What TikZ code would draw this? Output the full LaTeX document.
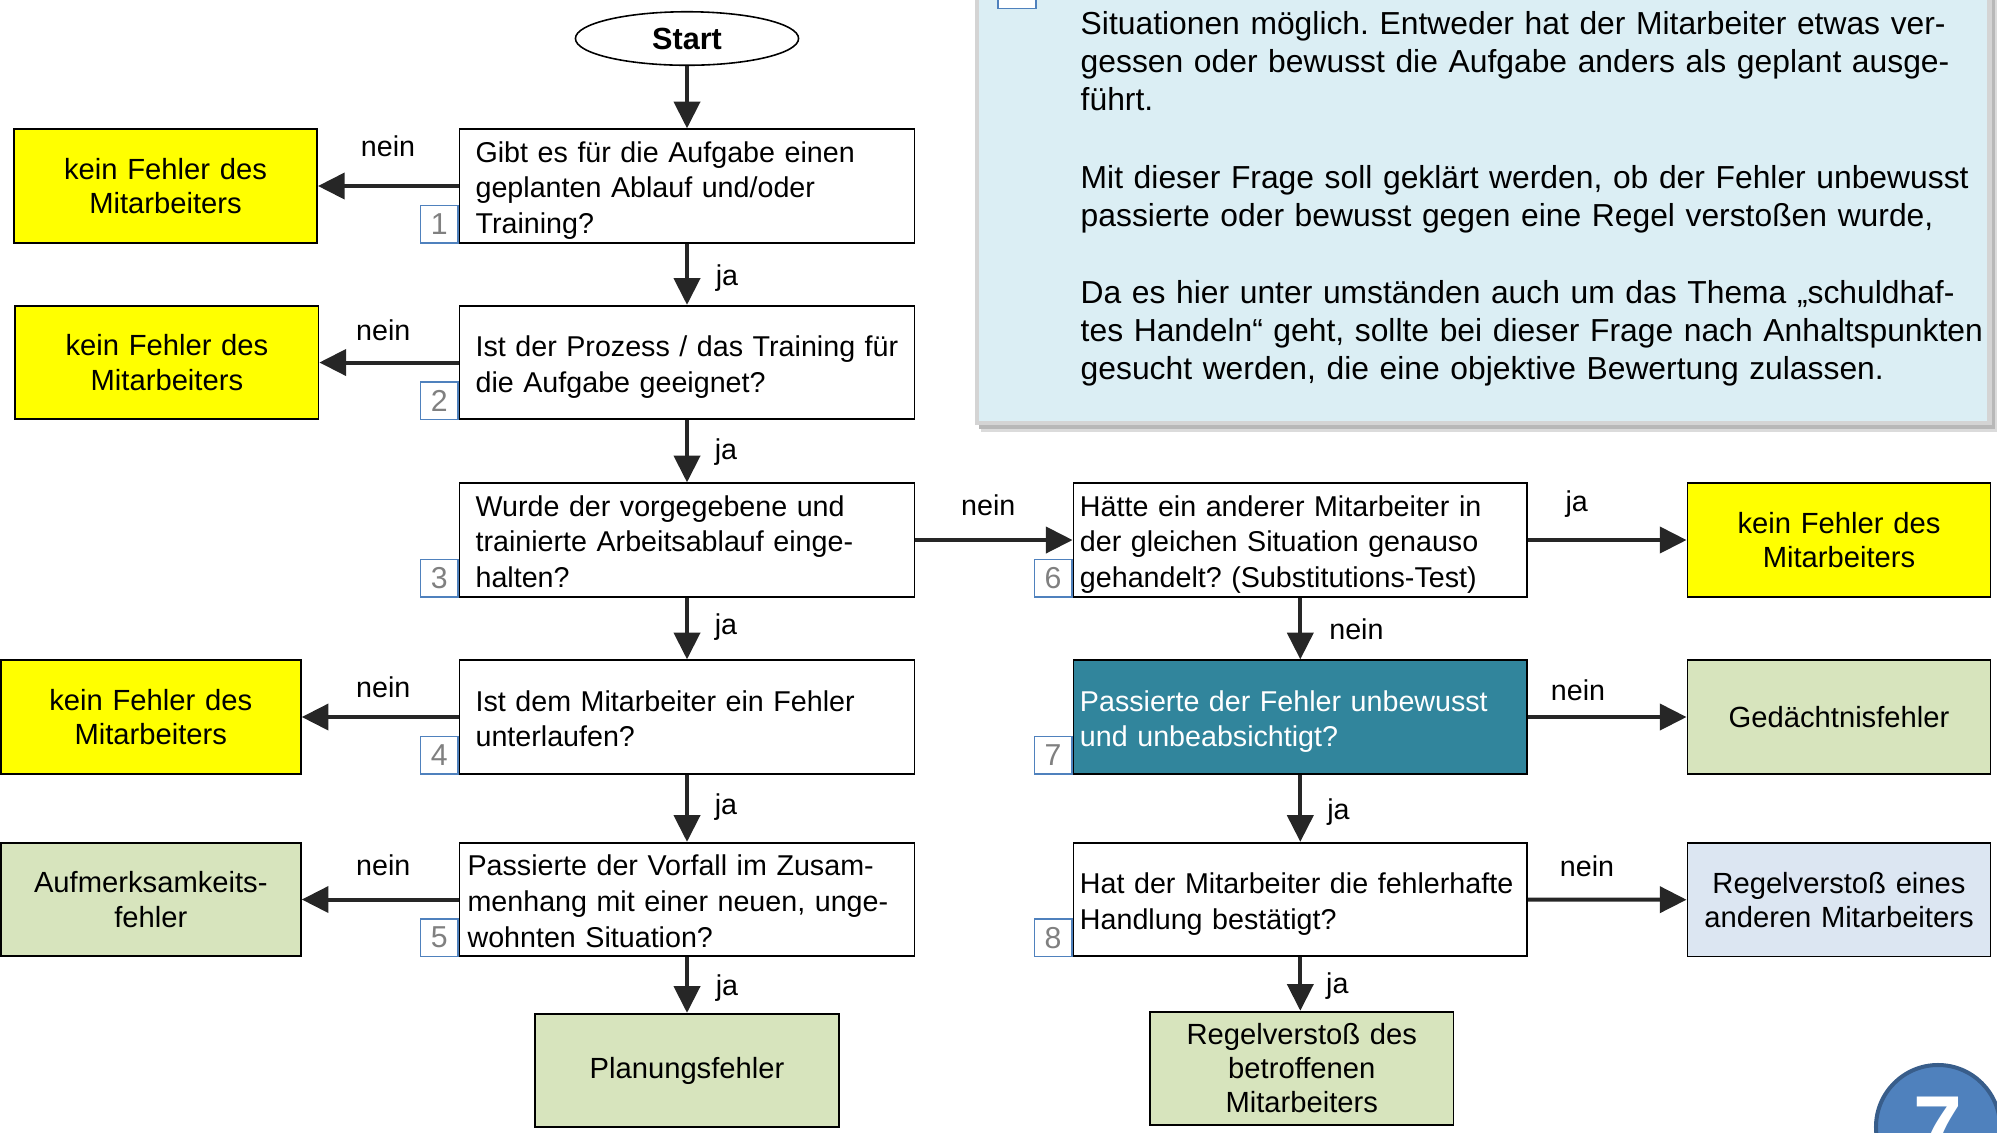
\documentclass[tikz,border=0pt]{standalone}
\usepackage{fontspec}
\setmainfont{Liberation Sans}
\usetikzlibrary{arrows.meta,shapes.geometric}
\definecolor{ylw}{HTML}{FFFF00}
\definecolor{grn}{HTML}{D7E4BD}
\definecolor{lblue}{HTML}{DCE6F2}
\definecolor{tealq}{HTML}{31859C}
\definecolor{infobg}{HTML}{DBEEF4}
\definecolor{numblue}{HTML}{4F81BD}
\definecolor{badgeedge}{HTML}{385D8A}
\definecolor{ink}{HTML}{262626}
\frenchspacing

\begin{document}
\begin{tikzpicture}[x=0.01cm,y=-0.01cm,
  txt/.style={font=\fontsize{8.15pt}{10.1pt}\selectfont},
  qbox/.style={txt, draw=black, line width=0.5pt, fill=white, rectangle,
    minimum width=4.546cm, minimum height=1.135cm, inner ysep=0pt,
    inner xsep=0.16cm, text width=4.226cm, align=left,
    execute at begin node={\rule{0pt}{8.8pt}},
    execute at end node={\rule[-2pt]{0pt}{2pt}}},
  rbox/.style={qbox, minimum width=4.534cm, inner xsep=0.065cm, text width=4.404cm},
  obox/.style={font=\fontsize{8.3pt}{9.7pt}\selectfont, draw=black, line width=0.5pt,
    rectangle, minimum width=3.03cm, minimum height=1.135cm, inner sep=0pt,
    text width=3.0cm, align=center},
  numbox/.style={draw=numblue, line width=0.4pt, fill=white, minimum size=0.375cm,
    inner sep=0pt, text=black!50, font=\fontsize{8.6pt}{10pt}\selectfont},
  arr/.style={draw=ink, line width=1.13pt, -{Triangle[length=7.6pt,width=7.4pt]}},
  lbl/.style={txt, inner sep=0pt},
  info/.style={font=\fontsize{9.05pt}{10.9pt}\selectfont, inner sep=0pt,
    text width=9.3cm, align=left},
]
\useasboundingbox (0,0) rectangle (1997,1132);

% explanatory note (top right) with its shadow
\fill[black!14] (981,-60) rectangle (1997,432);
\fill[black!28] (979,-60) rectangle (1995,429);
\draw[draw=black!17, line width=0.045cm, fill=infobg] (977.2,-60) rectangle (1989.5,422.8);
\draw[numblue, line width=0.4pt, fill=white] (998,-40) rectangle (1036,8.5);
\node[info, anchor=base west] (p1) at (1080,34.3)
  {Situationen möglich. Entweder hat der Mitarbeiter etwas ver-\\gessen oder bewusst die Aufgabe anders als geplant ausge-\\führt.};
\node[info, anchor=base west] (p2) at (1080,188.3)
  {Mit dieser Frage soll geklärt werden, ob der Fehler unbewusst\\passierte oder bewusst gegen eine Regel verstoßen wurde,};
\node[info, anchor=base west] (p3) at (1080,303.3)
  {Da es hier unter umständen auch um das Thema „schuldhaf-\\tes Handeln“ geht, sollte bei dieser Frage nach Anhaltspunkten\\gesucht werden, die eine objektive Bewertung zulassen.};

% start
\node[draw=black, line width=0.45pt, ellipse, minimum width=2.23cm, minimum height=0.535cm,
  inner sep=0pt, font=\fontsize{8.7pt}{10pt}\selectfont\bfseries] (start) at (687,38.5) {Start};

% questions, left column
\node[qbox] (q1) at (687,186) {Gibt es für die Aufgabe einen\\geplanten Ablauf und/oder\\Training?};
\node[qbox] (q2) at (687,362.5) {\mbox{Ist der Prozess / das Training für}\\die Aufgabe geeignet?};
\node[qbox] (q3) at (687,540) {Wurde der vorgegebene und\\trainierte Arbeitsablauf einge-\\halten?};
\node[qbox] (q4) at (687,717) {Ist dem Mitarbeiter ein Fehler\\unterlaufen?};
\node[qbox, inner xsep=0.08cm, text width=4.386cm] (q5) at (687,899.5)
  {Passierte der Vorfall im Zusam-\\menhang mit einer neuen, unge-\\wohnten Situation?};

% questions, right column
\node[rbox] (q6) at (1300.3,540) {Hätte ein anderer Mitarbeiter in\\der gleichen Situation genauso\\gehandelt? (Substitutions-Test)};
\node[rbox, fill=tealq, text=white] (q7) at (1300.3,717) {Passierte der Fehler unbewusst\\und unbeabsichtigt?};
\node[rbox] (q8) at (1300.3,899.5) {\mbox{Hat der Mitarbeiter die fehlerhafte}\\Handlung bestätigt?};

% question numbers
\node[numbox, anchor=south east] (n1) at (q1.south west) {1};
\node[numbox, anchor=south east] (n2) at (q2.south west) {2};
\node[numbox, anchor=south east] (n3) at (q3.south west) {3};
\node[numbox, anchor=south east] (n4) at (q4.south west) {4};
\node[numbox, anchor=south east] (n5) at (q5.south west) {5};
\node[numbox, anchor=south east] (n6) at (q6.south west) {6};
\node[numbox, anchor=south east] (n7) at (q7.south west) {7};
\node[numbox, anchor=south east] (n8) at (q8.south west) {8};

% results
\node[obox, fill=ylw] (a) at (165.5,186) {kein Fehler des\\Mitarbeiters};
\node[obox, fill=ylw] (b) at (166.9,362.5) {kein Fehler des\\Mitarbeiters};
\node[obox, fill=ylw, minimum width=2.996cm] (c) at (150.8,717) {kein Fehler des\\Mitarbeiters};
\node[obox, fill=grn, minimum width=2.996cm] (d) at (150.8,899.5) {Aufmerksamkeits-\\fehler};
\node[obox, fill=grn, minimum width=3.04cm] (p) at (687,1070.5) {Planungsfehler};
\node[obox, fill=ylw] (e) at (1839,540) {kein Fehler des\\Mitarbeiters};
\node[obox, fill=grn] (g) at (1839,717) {Gedächtnisfehler};
\node[obox, fill=lblue] (r) at (1839,899.7) {Regelverstoß eines\\anderen Mitarbeiters};
\node[obox, fill=grn] (f) at (1301.8,1068.4) {Regelverstoß des\\betroffenen\\Mitarbeiters};

% connectors
\draw[arr] (start) -- (q1);
\draw[arr] (q1) -- (q2);
\draw[arr] (q2) -- (q3);
\draw[arr] (q3) -- (q4);
\draw[arr] (q4) -- (q5);
\draw[arr] (q5) -- (p);
\draw[arr] (q1.west) -- (a.east);
\draw[arr] (q2.west) -- (b.east);
\draw[arr] (q4.west) -- (c.east);
\draw[arr] (q5.west) -- (d.east);
\draw[arr] (q3.east) -- (q6.west);
\draw[arr] (q6.east) -- (e.west);
\draw[arr] (q7.east) -- (g.west);
\draw[arr] (q8.east) -- (r.west);
\draw[arr] (q6) -- (q7);
\draw[arr] (q7) -- (q8);
\draw[arr] (q8.south) -- (q8.south |- f.north);

% answer labels
\node[lbl] (l1) at (388,146.5) {nein};
\node[lbl] (l2) at (727,277.6) {ja};
\node[lbl] (l3) at (383.3,329.9) {nein};
\node[lbl] (l4) at (726,452) {ja};
\node[lbl] (l5) at (988.3,505.6) {nein};
\node[lbl] (l6) at (726,626.6) {ja};
\node[lbl] (l7) at (383.3,687.7) {nein};
\node[lbl] (l8) at (726,807.5) {ja};
\node[lbl] (l9) at (383.3,864.8) {nein};
\node[lbl] (l10) at (727,988.3) {ja};
\node[lbl] (l11) at (1576.7,504.3) {ja};
\node[lbl] (l12) at (1356.4,629.2) {nein};
\node[lbl] (l13) at (1578,690.3) {nein};
\node[lbl] (l14) at (1338.5,812.5) {ja};
\node[lbl] (l15) at (1587,866) {nein};
\node[lbl] (l16) at (1337.3,985.8) {ja};

% chapter badge
\node[circle, fill=numblue, draw=badgeedge, line width=0.04cm, minimum size=1.24cm,
  inner sep=0pt, text=white, font=\fontsize{25pt}{25pt}\selectfont\bfseries] (badge) at (1938,1127) {7};
\end{tikzpicture}
\end{document}
